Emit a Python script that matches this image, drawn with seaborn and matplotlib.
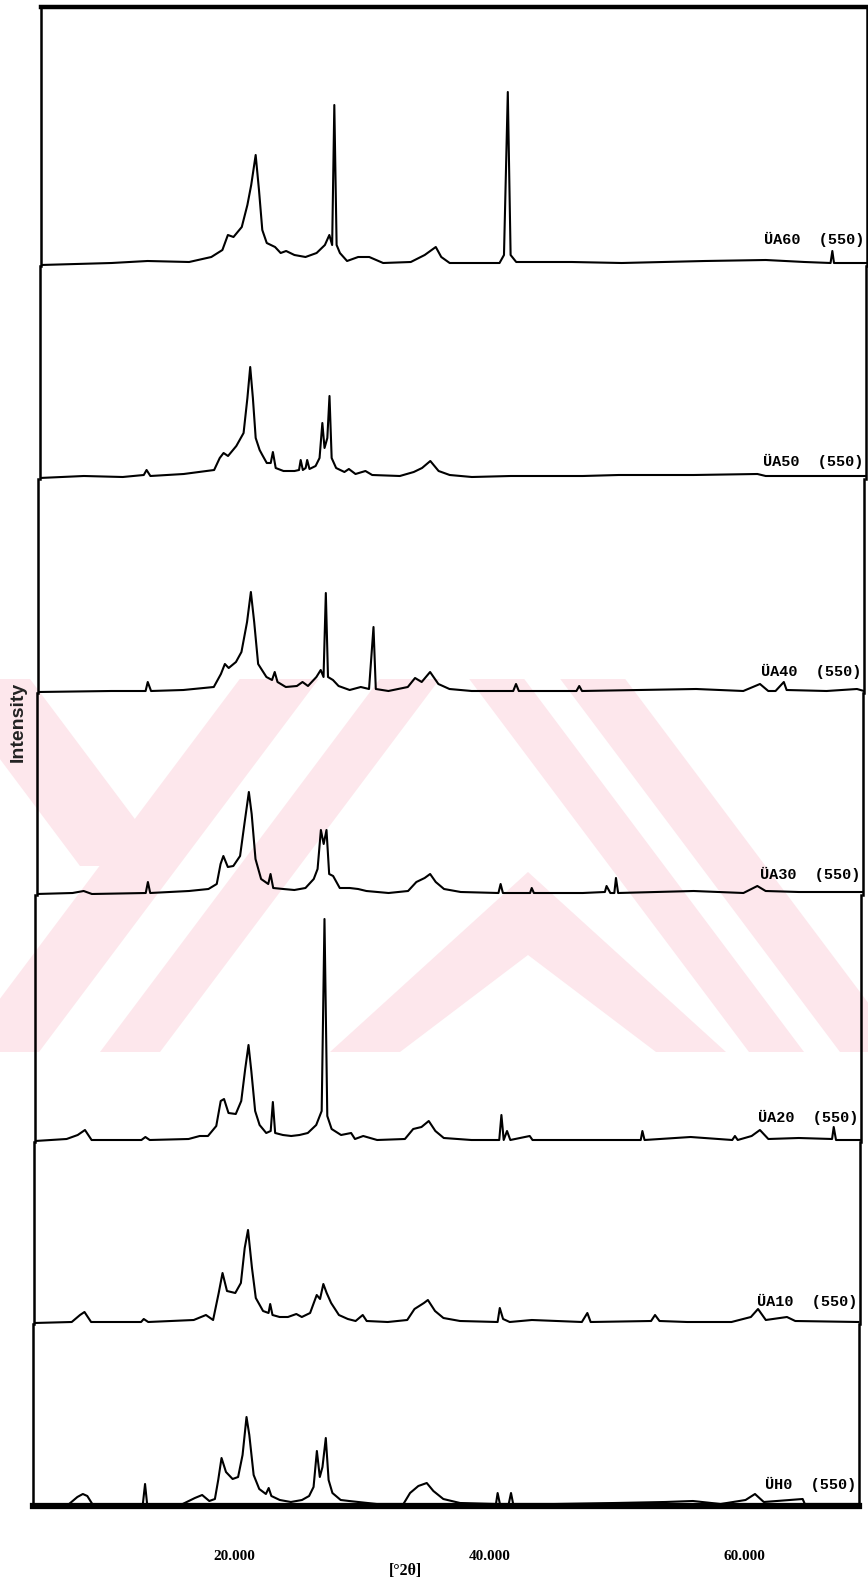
import matplotlib
matplotlib.use("Agg")
import matplotlib.pyplot as plt
from matplotlib.patches import Polygon
import seaborn as sns

sns.set_theme(style="white")
plt.rcParams['font.family'] = ['DejaVu Sans']

# ---------------- data (2theta in degrees, intensity in arbitrary units) ----------------
names = ["ÜA60  (550)", "ÜA50  (550)", "ÜA40  (550)", "ÜA30  (550)",
         "ÜA20  (550)", "ÜA10  (550)", "ÜH0  (550)"]

ua60_x = [4.2, 9.77, 12.6, 15.86, 17.6, 18.47, 18.9, 19.34, 19.99, 20.43, 20.73, 21.08, 21.34, 21.6,
          21.95, 22.6, 23.04, 23.47, 24.12, 24.99, 25.86, 26.51, 26.86, 27.08, 27.25, 27.43, 27.69,
          28.25, 29.12, 29.99, 31.08, 33.25, 34.34, 35.21, 35.64, 36.3, 40.21, 40.56, 40.86, 41.08,
          41.52, 45.87, 49.79, 56.31, 61.1, 64.14, 66.18, 66.32, 66.45, 69.0]
ua60_y = [0, 2, 4, 3, 8, 15, 30, 28, 38, 60, 80, 110, 75, 35,
          22, 18, 12, 14, 10, 8, 12, 20, 30, 20, 160, 20, 12,
          4, 8, 8, 2, 3, 10, 18, 8, 2, 2, 10, 173, 10,
          3, 3, 2, 4, 5, 3, 2, 14, 2, 2]

ua50_x = [4.2, 7.68, 10.73, 12.38, 12.6, 12.9, 15.51, 17.9, 18.34, 18.64, 18.99, 19.64, 20.21, 20.51,
          20.73, 20.94, 21.16, 21.47, 21.68, 22.03, 22.34, 22.51, 22.73, 23.34, 24.21, 24.56, 24.69,
          24.86, 25.08, 25.2, 25.38, 25.86, 26.17, 26.39, 26.56, 26.78, 26.95, 27.12, 27.47, 28.12,
          28.47, 28.99, 29.77, 30.3, 32.47, 33.56, 34.21, 34.86, 35.51, 36.38, 38.12, 41.16, 46.82,
          49.64, 55.51, 60.52, 61.17, 69.0]
ua50_y = [0, 2, 1, 3, 8, 2, 4, 8, 20, 25, 22, 32, 45, 80,
          111, 80, 40, 28, 23, 15, 15, 26, 10, 7, 7, 8, 18,
          8, 10, 18, 9, 12, 20, 55, 30, 40, 82, 20, 10, 6,
          9, 4, 7, 3, 2, 6, 10, 17, 7, 3, 1, 2, 2,
          3, 3, 4, 2, 2]

ua40_x = [4.2, 9.94, 12.64, 12.81, 13.07, 15.6, 17.99, 18.55, 18.86, 19.16, 19.73, 20.16, 20.6, 20.9,
          21.16, 21.47, 22.12, 22.56, 22.77, 22.99, 23.64, 24.51, 24.95, 25.38, 26.04, 26.38, 26.6,
          26.78, 26.95, 27.34, 27.78, 28.65, 29.52, 30.17, 30.52, 30.7, 31.69, 33.21, 33.78, 34.3,
          34.96, 35.61, 36.48, 38.22, 41.48, 41.7, 41.92, 46.44, 46.66, 46.88, 55.83, 59.53, 60.84,
          61.49, 62.06, 62.71, 62.93, 66.06, 68.45, 69.0]
ua40_y = [0, 1, 1, 10, 1, 2, 5, 18, 28, 24, 30, 40, 70, 100,
          70, 28, 15, 12, 20, 10, 5, 6, 10, 6, 15, 22, 15,
          99, 15, 12, 6, 2, 5, 3, 65, 3, 1, 5, 14, 10,
          20, 8, 3, 1, 1, 8, 1, 1, 6, 1, 3, 1, 8,
          1, 1, 10, 2, 1, 3, 1]

ua30_x = [4.2, 7.03, 7.9, 8.55, 12.77, 12.94, 13.12, 16.16, 17.69, 18.34, 18.64, 18.86, 19.21, 19.64,
          20.17, 20.51, 20.86, 21.08, 21.38, 21.82, 22.38, 22.56, 22.77, 23.56, 24.43, 25.3, 25.95,
          26.25, 26.51, 26.73, 26.95, 27.16, 27.47, 27.99, 28.77, 29.43, 30.08, 31.82, 33.35, 34.0,
          34.65, 35.08, 35.52, 36.17, 37.48, 40.44, 40.61, 40.79, 42.92, 43.05, 43.22, 47.05, 48.79,
          48.92, 49.22, 49.53, 49.66, 49.83, 55.75, 59.66, 60.75, 61.4, 64.01, 69.0]
ua30_y = [0, 1, 3, 0, 1, 12, 1, 3, 5, 10, 30, 38, 27, 28,
          38, 70, 102, 80, 35, 15, 10, 20, 6, 5, 4, 6, 15,
          25, 64, 50, 64, 20, 18, 6, 6, 5, 3, 1, 3, 12,
          16, 20, 12, 5, 2, 1, 10, 1, 1, 6, 1, 1, 2,
          8, 1, 1, 16, 1, 3, 1, 8, 3, 2, 2]

ua20_x = [4.2, 6.68, 7.55, 8.12, 8.64, 12.55, 12.86, 13.2, 16.25, 17.12, 17.77, 18.42, 18.77, 19.03,
          19.38, 19.95, 20.38, 20.69, 20.95, 21.17, 21.47, 21.82, 22.34, 22.69, 22.86, 23.04, 23.65,
          24.3, 24.95, 25.6, 26.26, 26.69, 26.91, 27.13, 27.47, 28.21, 29.0, 29.3, 29.95, 31.04,
          33.22, 33.87, 34.52, 35.09, 35.61, 36.27, 38.44, 40.62, 40.79, 40.97, 41.23, 41.49, 43.01,
          43.23, 48.45, 51.72, 51.85, 52.02, 55.63, 58.9, 59.11, 59.33, 60.42, 61.07, 61.73, 64.12,
          66.73, 66.86, 67.04, 69.0]
ua20_y = [0, 2, 6, 11, 1, 1, 4, 1, 2, 5, 5, 15, 40, 42,
          28, 27, 40, 72, 96, 70, 30, 16, 8, 10, 39, 8, 6,
          5, 6, 8, 16, 30, 222, 25, 12, 6, 8, 2, 5, 1,
          2, 12, 14, 20, 10, 3, 1, 1, 26, 1, 10, 1, 5,
          1, 1, 1, 10, 1, 4, 1, 5, 1, 5, 11, 2, 3,
          2, 14, 1, 1]

ua10_x = [4.2, 7.16, 7.81, 8.16, 8.68, 12.6, 12.81, 13.16, 16.73, 17.69, 18.25, 18.69, 18.99, 19.34,
          19.99, 20.43, 20.73, 20.99, 21.3, 21.6, 22.17, 22.6, 22.73, 22.91, 23.47, 24.12, 24.78,
          25.21, 25.86, 26.38, 26.64, 26.9, 27.16, 27.51, 28.12, 28.82, 29.43, 29.99, 30.3, 31.95,
          33.48, 34.05, 34.79, 35.1, 35.66, 36.32, 37.62, 40.57, 40.74, 41.0, 41.52, 43.26, 47.18,
          47.61, 47.87, 52.61, 52.92, 53.27, 55.44, 58.92, 60.44, 61.0, 61.61, 63.27, 63.92, 68.9]
ua10_y = [0, 1, 8, 11, 1, 1, 4, 1, 3, 8, 3, 30, 50, 32,
          30, 40, 75, 93, 55, 25, 12, 10, 19, 8, 6, 6, 9,
          6, 10, 28, 24, 39, 30, 20, 8, 4, 2, 8, 2, 1,
          3, 14, 20, 23, 12, 5, 2, 1, 15, 4, 1, 3, 1,
          10, 1, 2, 8, 2, 1, 1, 6, 14, 3, 6, 2, 1]

uh0_x = [4.2, 7.03, 7.68, 8.11, 8.46, 8.9, 12.81, 12.99, 13.16, 15.94, 16.9, 17.47, 18.03, 18.47,
         18.73, 18.99, 19.34, 19.86, 20.29, 20.64, 20.95, 21.17, 21.51, 21.95, 22.47, 22.69, 22.9,
         23.56, 24.43, 25.3, 25.86, 26.21, 26.47, 26.7, 26.91, 27.17, 27.39, 27.69, 28.34, 29.0,
         31.17, 33.26, 33.78, 34.43, 35.09, 35.61, 36.39, 37.7, 40.52, 40.65, 40.83, 41.52, 41.7,
         41.87, 45.09, 49.87, 53.79, 55.97, 58.14, 60.1, 60.84, 61.53, 64.58, 64.75, 69.0]
uh0_y = [0, 1, 8, 11, 9, 0, 0, 21, 0, 1, 7, 10, 4, 6,
         25, 47, 33, 26, 28, 50, 88, 70, 30, 16, 11, 17, 9,
         5, 3, 5, 9, 18, 54, 28, 38, 67, 25, 12, 5, 4,
         1, 1, 12, 19, 22, 14, 6, 2, 1, 12, 1, 1, 12,
         1, 1, 2, 3, 4, 1, 5, 11, 3, 6, 1, 1]

series_x = [ua60_x, ua50_x, ua40_x, ua30_x, ua20_x, ua10_x, uh0_x]
series_y = [ua60_y, ua50_y, ua40_y, ua30_y, ua20_y, ua10_y, uh0_y]

x_ticks = [20, 40, 60]
x_tick_labels = ["20.000", "40.000", "60.000"]

# ---------------- layout (figure pixels) ----------------
W, H = 868, 1585
fig = plt.figure(figsize=(W / 100, H / 100), dpi=100)
fig.patch.set_facecolor("white")

# faint background watermark (scanned thesis page), figure pixel coords
wm_color = "#fde7ec"
wm_top, wm_bot = 679, 1052
k = 0.75
span = (wm_bot - wm_top) * k


def px_poly(pts):
    return Polygon([(x / W, 1 - y / H) for x, y in pts], closed=True,
                   transform=fig.transFigure, facecolor=wm_color, edgecolor="none", zorder=0)


wm_shapes = []
# "/" bands, defined by x range on the bottom edge
for a, b in [(-40, 39), (100, 160)]:
    wm_shapes.append([(a, wm_bot), (b, wm_bot), (b + span, wm_top), (a + span, wm_top)])
# "\" band at top-left
wm_shapes.append([(-60, wm_top), (30, wm_top), (170, 866), (80, 866)])
# central chevron
wm_shapes.append([(330, wm_bot), (528, 872), (726, wm_bot), (656, wm_bot), (528, 955), (400, wm_bot)])
# "\" bands on the right, defined by x range on the bottom edge
for a, b in [(749, 804), (840, 905)]:
    wm_shapes.append([(a - span, wm_top), (b - span, wm_top), (b, wm_bot), (a, wm_bot)])
for pts in wm_shapes:
    fig.add_artist(px_poly(pts))

bounds = [7, 266, 479, 693, 895, 1142, 1324, 1506]      # panel top / baselines
lefts = [40.5, 39.5, 38.0, 36.5, 35.0, 34.0, 33.0]
panel_w = 826
label_off = [26, 17, 21, 20, 24, 22, 21]
xlim = (4.2, 69.0)

for i in range(7):
    top, bot = bounds[i], bounds[i + 1]
    h = bot - top
    ax = fig.add_axes([lefts[i] / W, 1 - bot / H, panel_w / W, h / H])
    ax.set_facecolor("none")
    ax.set_zorder(2)
    sns.lineplot(x=series_x[i], y=series_y[i], ax=ax, color="black", lw=1.5,
                 estimator=None, sort=False)
    ax.set_xlim(*xlim)
    ax.set_ylim(-1, h - 1)
    ax.set_yticks([])
    for s in ["left", "right"]:
        ax.spines[s].set_color("black")
        ax.spines[s].set_linewidth(1.8)
    ax.spines["top"].set_visible(i == 0)
    ax.spines["top"].set_color("black")
    ax.spines["top"].set_linewidth(3.2)
    ax.spines["bottom"].set_visible(i == 6)
    ax.spines["bottom"].set_color("black")
    ax.spines["bottom"].set_linewidth(4.5)
    if i == 6:
        ax.set_xticks(x_ticks)
        ax.set_xticklabels(x_tick_labels, fontfamily="Liberation Serif",
                           fontweight="bold", fontsize=11)
        ax.tick_params(axis="x", length=0, pad=32, colors="black")
    else:
        ax.set_xticks([])
    ax.set_xlabel("")
    ax.set_ylabel("")
    ax.text(0.997, label_off[i], names[i], transform=ax.get_yaxis_transform(),
            ha="right", va="center", fontfamily="Liberation Mono",
            fontweight="bold", fontsize=11, color="black")

fig.text(18 / W, 1 - 722 / H, "Intensity", rotation=90, ha="center", va="center",
         fontfamily="Liberation Sans", fontweight="bold", fontsize=14, color="#222222")
fig.text(405 / W, 1 - 1571 / H, "[°2θ]", ha="center", va="center",
         fontfamily="Liberation Serif", fontweight="bold", fontsize=11.5, color="black")

fig.savefig("out.png", dpi=100)
